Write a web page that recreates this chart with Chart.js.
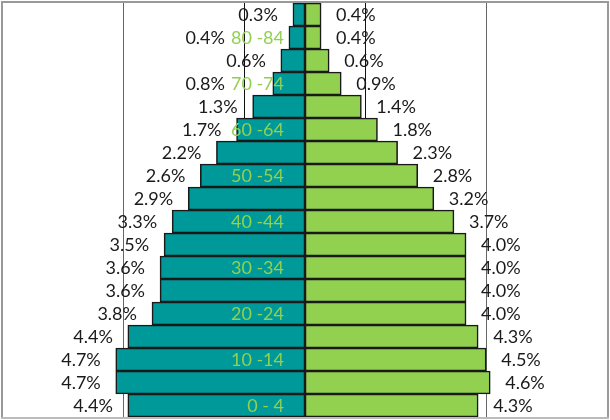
<!DOCTYPE html>
<html>
<head>
<meta charset="utf-8">
<script src="https://cdn.jsdelivr.net/npm/chart.js@4"></script>
<style>
  html, body { margin: 0; padding: 0; background: #fff; }
  #wrap { width: 610px; height: 420px; }
</style>
</head>
<body>
<div id="wrap"><canvas id="pyramid" width="610" height="420"></canvas></div>
<script>
// age groups, top row first
const ageGroups = [
  "85+", "80 -84", "75 -79", "70 -74", "65 -69", "60 -64", "55 -59", "50 -54", "45 -49",
  "40 -44", "35 -39", "30 -34", "25 -29", "20 -24", "15 -19", "10 -14", "5 - 9", "0 - 4",
];
// which age groups get a centre label
const shownAges = ["80 -84", "70 -74", "60 -64", "50 -54", "40 -44", "30 -34", "20 -24", "10 -14", "0 - 4"];
const males = [0.3, 0.4, 0.6, 0.8, 1.3, 1.7, 2.2, 2.6, 2.9, 3.3, 3.5, 3.6, 3.6, 3.8, 4.4, 4.7, 4.7, 4.4];
const females = [0.4, 0.4, 0.6, 0.9, 1.4, 1.8, 2.3, 2.8, 3.2, 3.7, 4.0, 4.0, 4.0, 4.0, 4.3, 4.5, 4.6, 4.3];
const gridValues = [-7.5, -4.5, -1.5, 1.5, 4.5, 7.5];

const FONT = "18px Lato, 'Open Sans', sans-serif";

// percentage labels next to bar ends + age labels in the middle
const labelPlugin = {
  id: "pyramidLabels",
  afterDatasetsDraw(chart) {
    const ctx = chart.ctx;
    const x0 = chart.scales.x.getPixelForValue(0);
    ctx.save();
    ctx.font = FONT;
    ctx.textBaseline = "middle";
    ctx.fillStyle = "#1a1a1a";
    chart.data.datasets.forEach((ds, di) => {
      const meta = chart.getDatasetMeta(di);
      meta.data.forEach((bar, i) => {
        const v = ds.data[i];
        const txt = Math.abs(v).toFixed(1) + "%";
        if (v < 0) {
          let x = bar.x - 15;
          const g = ageGroups[i];
          if (shownAges.includes(g)) {
            // keep clear of the age label
            const ageLeft = x0 - 21 - ctx.measureText(g).width;
            x = Math.min(x, ageLeft - 6);
          }
          ctx.textAlign = "right";
          ctx.fillText(txt, x, bar.y + 1);
        } else {
          ctx.textAlign = "left";
          ctx.fillText(txt, bar.x + 15, bar.y + 1);
        }
      });
    });
    ctx.fillStyle = "#92d050";
    ctx.textAlign = "right";
    ageGroups.forEach((g, i) => {
      if (!shownAges.includes(g)) return;
      const y = chart.scales.y.getPixelForValue(i);
      ctx.fillText(g, x0 - 21, y + 1);
    });
    ctx.restore();
  },
  afterDraw(chart) {
    const { left, top, right, bottom } = chart.chartArea;
    const ctx = chart.ctx;
    ctx.save();
    ctx.strokeStyle = "#999";
    ctx.lineWidth = 2;
    ctx.beginPath();
    ctx.moveTo(left - 1, bottom);
    ctx.lineTo(left - 1, top - 1);
    ctx.lineTo(right + 1, top - 1);
    ctx.lineTo(right + 1, bottom);
    ctx.stroke();
    ctx.strokeStyle = "#bbb";
    ctx.beginPath();
    ctx.moveTo(left - 2, bottom + 1);
    ctx.lineTo(right + 2, bottom + 1);
    ctx.stroke();
    ctx.restore();
  },
};

new Chart(document.getElementById("pyramid"), {
  type: "bar",
  data: {
    labels: ageGroups,
    datasets: [
      {
        label: "Male",
        data: males.map((v) => -v),
        backgroundColor: "#009999",
        borderColor: "#1a1a1a",
        borderWidth: 1.6,
        borderSkipped: false,
        barPercentage: 1,
        categoryPercentage: 1,
      },
      {
        label: "Female",
        data: females,
        backgroundColor: "#92d050",
        borderColor: "#1a1a1a",
        borderWidth: 1.6,
        borderSkipped: false,
        barPercentage: 1,
        categoryPercentage: 1,
      },
    ],
  },
  options: {
    indexAxis: "y",
    responsive: false,
    animation: false,
    layout: { padding: { left: 3, right: 3, top: 3, bottom: 3 } },
    scales: {
      x: {
        stacked: true,
        min: -7.5,
        max: 7.5,
        afterBuildTicks: (axis) => {
          axis.ticks = gridValues.map((v) => ({ value: v }));
        },
        ticks: { display: false },
        border: { display: false },
        grid: {
          drawTicks: false,
          color: (c) => {
            const v = Math.abs(c.tick.value);
            if (v === 1.5) return "#111";
            if (v === 4.5) return "#666";
            return "rgba(0,0,0,0)";
          },
        },
      },
      y: {
        stacked: true,
        display: false,
      },
    },
    plugins: {
      legend: { display: false },
      tooltip: { enabled: false },
    },
  },
  plugins: [labelPlugin],
});
</script>
</body>
</html>
